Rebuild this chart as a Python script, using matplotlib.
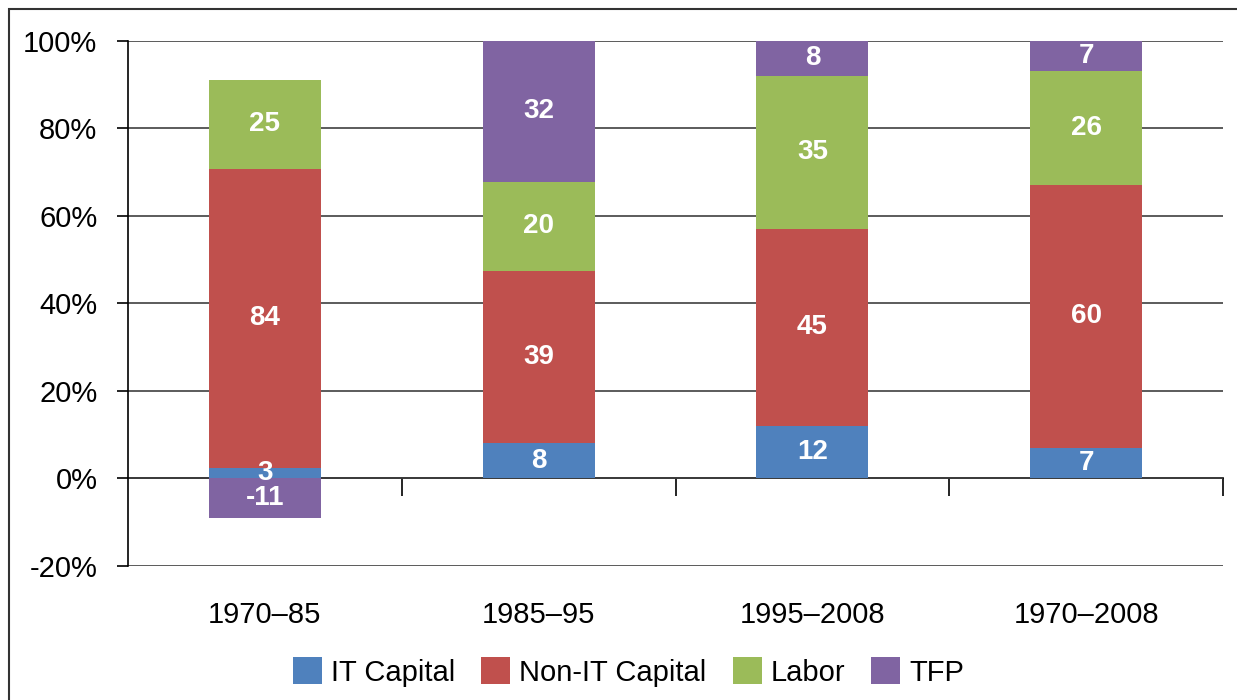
import numpy as np
import matplotlib
matplotlib.use('Agg')
import matplotlib.pyplot as plt
from matplotlib.patches import Rectangle

plt.rcParams['font.family'] = ['Liberation Sans', 'DejaVu Sans']

# contributions
periods = ['1970\u201385', '1985\u201395', '1995\u20132008', '1970\u20132008']
series_names = ['IT Capital', 'Non-IT Capital', 'Labor', 'TFP']
it_capital = [3, 8, 12, 7]
non_it_capital = [84, 39, 45, 60]
labor = [25, 20, 35, 26]
tfp = [-11, 32, 8, 7]
colors = ['#4F81BD', '#C0504D', '#9BBB59', '#8064A2']

vals = np.array([it_capital, non_it_capital, labor, tfp], dtype=float)
# 100% stacked like the spreadsheet does it: divide by sum of absolute values
pct = vals / np.abs(vals).sum(axis=0) * 100

fig = plt.figure(figsize=(12.37, 7), dpi=100)
ax = fig.add_axes([128 / 1237, 1 - 566 / 700, (1223 - 128) / 1237, (566 - 40.5) / 700])

x = np.arange(len(periods))
pos_bottom = np.zeros(len(periods))
neg_bottom = np.zeros(len(periods))
for i, name in enumerate(series_names):
    h = pct[i]
    bottom = np.where(h >= 0, pos_bottom, neg_bottom)
    ax.bar(x, h, bottom=bottom, width=0.41, color=colors[i], label=name, zorder=3)
    for j in range(len(x)):
        ax.text(x[j], bottom[j] + h[j] / 2, '%d' % vals[i, j], color='white',
                fontsize=20, fontweight='bold', ha='center', va='center', zorder=4)
    pos_bottom = pos_bottom + np.where(h >= 0, h, 0)
    neg_bottom = neg_bottom + np.where(h < 0, h, 0)

ax.set_xlim(-0.5, 3.5)
ax.set_ylim(-20, 100)
ax.set_yticks(np.arange(-20, 101, 20))
ax.set_yticklabels(['%d%%' % v for v in np.arange(-20, 101, 20)])
ax.yaxis.grid(True, color='#404040', linewidth=1.2, zorder=0)
ax.tick_params(axis='y', labelsize=21, length=8, width=1.2, pad=14, color='black')
ax.set_xticks(x)
ax.set_xticklabels(periods)
ax.tick_params(axis='x', labelsize=21, length=0, pad=25)
for s in ['top', 'right', 'bottom']:
    ax.spines[s].set_visible(False)
ax.spines['left'].set_linewidth(1.2)

# zero line with category separator ticks
sec = ax.secondary_xaxis(20 / 120)
sec.set_xticks([0.5, 1.5, 2.5, 3.5])
sec.tick_params(direction='out', length=13, width=1.2, labelbottom=False, labeltop=False)
sec.spines['bottom'].set_linewidth(1.2)

handles, labels = ax.get_legend_handles_labels()
fig.legend(handles, labels, loc='center', bbox_to_anchor=(0.508, 1 - 672 / 700), ncol=4,
           frameon=False, fontsize=21, handlelength=1.0, handleheight=1.0,
           handletextpad=0.3, columnspacing=0.9, borderaxespad=0)

fig.add_artist(Rectangle((9 / 1237, -0.1), 1.2, 1.1 - 9 / 700, transform=fig.transFigure,
                         fill=False, edgecolor='#333333', linewidth=1.5))

fig.savefig('out.png', dpi=100)
